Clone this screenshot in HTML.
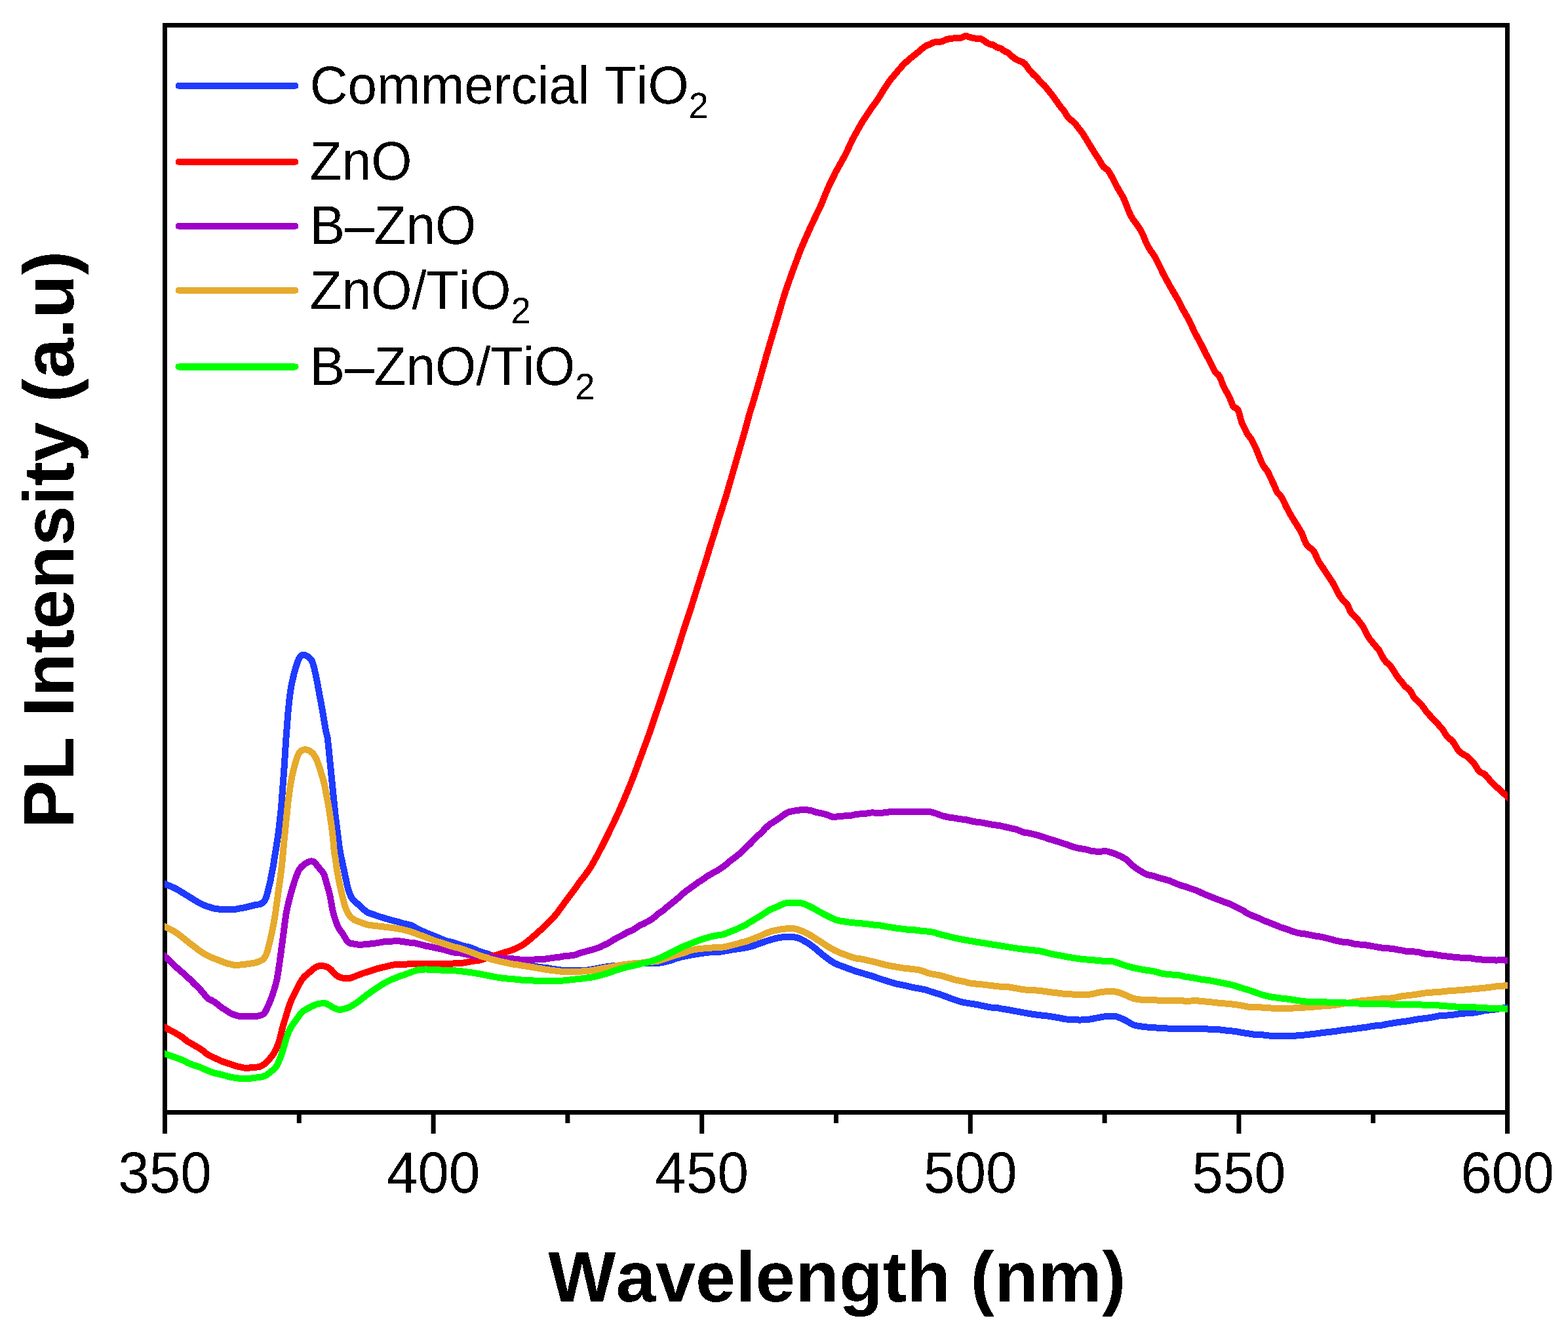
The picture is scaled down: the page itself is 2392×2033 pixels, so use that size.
<!DOCTYPE html>
<html lang="en"><head><meta charset="utf-8"><title>PL Intensity (a.u) vs Wavelength (nm)</title>
<style>html,body{margin:0;padding:0;background:#fff}body{width:2392px;height:2033px;overflow:hidden}svg{display:block}text{font-family:"Liberation Sans",sans-serif;fill:#000;font-kerning:none;text-rendering:geometricPrecision}.b{font-weight:700}</style></head><body>
<svg width="2392" height="2033" viewBox="0 0 2392 2033">
<rect x="0" y="0" width="2392" height="2033" fill="#fff"/>
<rect x="251.5" y="38.5" width="2048.0" height="1658.0" fill="none" stroke="#000" stroke-width="7"/>
<line x1="251.50" y1="1696.5" x2="251.50" y2="1729" stroke="#000" stroke-width="7"/>
<line x1="456.30" y1="1696.5" x2="456.30" y2="1713" stroke="#000" stroke-width="7"/>
<line x1="661.10" y1="1696.5" x2="661.10" y2="1729" stroke="#000" stroke-width="7"/>
<line x1="865.90" y1="1696.5" x2="865.90" y2="1713" stroke="#000" stroke-width="7"/>
<line x1="1070.70" y1="1696.5" x2="1070.70" y2="1729" stroke="#000" stroke-width="7"/>
<line x1="1275.50" y1="1696.5" x2="1275.50" y2="1713" stroke="#000" stroke-width="7"/>
<line x1="1480.30" y1="1696.5" x2="1480.30" y2="1729" stroke="#000" stroke-width="7"/>
<line x1="1685.10" y1="1696.5" x2="1685.10" y2="1713" stroke="#000" stroke-width="7"/>
<line x1="1889.90" y1="1696.5" x2="1889.90" y2="1729" stroke="#000" stroke-width="7"/>
<line x1="2094.70" y1="1696.5" x2="2094.70" y2="1713" stroke="#000" stroke-width="7"/>
<line x1="2299.50" y1="1696.5" x2="2299.50" y2="1729" stroke="#000" stroke-width="7"/>
<defs><clipPath id="c"><rect x="251.0" y="38.5" width="2049.0" height="1658.0"/></clipPath></defs>
<g clip-path="url(#c)" fill="none" stroke-width="10.0" stroke-linejoin="round" stroke-linecap="butt" shape-rendering="crispEdges">
<path d="M237.0,1342.7L243.0,1345.0L249.0,1346.9L255.0,1349.7L261.0,1351.9L268.5,1355.5L273.0,1358.1L301.5,1375.7L307.5,1378.9L312.0,1380.9L315.0,1382.0L325.5,1385.2L328.5,1385.9L334.5,1386.6L345.0,1387.1L357.0,1386.9L360.0,1386.6L373.5,1384.1L388.5,1380.4L396.0,1379.2L397.5,1378.7L400.5,1376.9L402.0,1375.7L403.5,1374.0L405.0,1371.1L406.5,1367.1L408.0,1362.1L412.5,1343.3L417.0,1319.5L423.0,1281.8L424.5,1271.3L426.0,1259.2L429.0,1231.6L433.5,1171.9L436.5,1124.9L439.5,1086.3L441.0,1070.9L442.5,1058.3L444.0,1048.3L445.5,1040.7L448.5,1027.8L451.5,1017.1L454.5,1008.0L456.0,1004.6L457.5,1002.0L459.0,1000.3L460.5,999.4L462.0,998.8L463.5,998.7L466.5,999.7L469.5,1001.4L472.5,1003.7L474.0,1005.2L475.5,1007.3L477.0,1010.9L478.5,1015.8L480.0,1021.8L483.0,1035.8L492.0,1084.2L496.5,1111.1L498.0,1118.4L499.5,1124.2L501.0,1137.3L511.5,1242.4L517.5,1290.3L519.0,1300.0L529.5,1349.4L531.0,1355.2L532.5,1360.1L534.0,1364.3L535.5,1367.6L537.0,1370.1L543.0,1376.2L555.0,1387.1L559.5,1390.8L562.5,1392.5L567.0,1393.8L573.0,1396.0L586.5,1400.4L597.0,1403.3L609.0,1406.3L615.0,1408.3L621.0,1409.6L627.0,1411.2L630.0,1412.6L637.5,1416.9L651.0,1423.1L666.0,1428.9L679.5,1434.7L691.5,1437.6L705.0,1442.2L712.5,1443.9L717.0,1445.0L730.5,1450.5L745.5,1455.4L754.5,1458.7L759.0,1460.1L765.0,1461.6L771.0,1462.8L780.0,1464.9L789.0,1467.4L795.0,1468.6L801.0,1470.4L820.5,1474.6L837.0,1476.6L843.0,1477.7L850.5,1478.7L861.0,1480.5L873.0,1480.4L880.5,1480.5L886.5,1480.3L898.5,1479.3L909.0,1477.4L921.0,1475.0L931.5,1473.6L963.0,1470.6L969.0,1469.8L987.0,1469.0L1003.5,1468.9L1008.0,1468.4L1012.5,1467.5L1023.0,1465.0L1030.5,1462.1L1039.5,1459.5L1045.5,1458.4L1054.5,1456.4L1071.0,1453.8L1081.5,1452.5L1089.0,1452.3L1101.0,1451.4L1119.0,1448.1L1131.0,1446.4L1141.5,1444.6L1147.5,1443.0L1168.5,1435.5L1177.5,1432.7L1183.5,1431.1L1191.0,1429.7L1198.5,1428.7L1203.0,1428.5L1209.0,1428.8L1215.0,1429.9L1219.5,1431.3L1222.5,1432.7L1231.5,1437.8L1236.0,1440.7L1242.0,1445.2L1257.0,1457.8L1267.5,1465.5L1272.0,1468.4L1278.0,1471.2L1305.0,1481.2L1329.0,1488.2L1347.0,1494.4L1353.0,1496.1L1362.0,1499.0L1368.0,1500.6L1381.5,1503.3L1393.5,1506.2L1401.0,1507.4L1413.0,1509.9L1420.5,1512.5L1432.5,1516.1L1443.0,1519.8L1450.5,1522.8L1464.0,1527.4L1468.5,1528.6L1491.0,1532.3L1510.5,1536.3L1513.5,1536.7L1522.5,1537.3L1527.0,1538.4L1533.0,1539.2L1569.0,1545.8L1581.0,1547.6L1593.0,1549.1L1599.0,1549.6L1617.0,1552.5L1623.0,1554.0L1632.0,1555.1L1635.0,1555.4L1641.0,1555.2L1647.0,1555.6L1657.5,1555.1L1665.0,1554.2L1671.0,1552.8L1677.0,1551.9L1683.0,1550.6L1693.5,1549.6L1699.5,1549.7L1704.0,1550.7L1710.0,1552.9L1717.5,1556.4L1726.5,1561.8L1729.5,1563.2L1731.0,1563.7L1738.5,1565.2L1753.5,1566.9L1761.0,1567.1L1767.0,1567.9L1773.0,1568.4L1779.0,1568.4L1791.0,1569.1L1797.0,1569.3L1810.5,1568.7L1825.5,1569.0L1836.0,1569.0L1840.5,1569.3L1849.5,1570.2L1857.0,1570.1L1860.0,1570.3L1870.5,1571.6L1885.5,1573.0L1894.5,1575.0L1905.0,1576.4L1912.5,1577.7L1917.0,1578.1L1926.0,1578.3L1941.0,1580.1L1947.0,1580.2L1953.0,1580.0L1965.0,1580.5L1995.0,1578.1L2001.0,1577.1L2007.0,1576.5L2017.5,1575.1L2037.0,1572.9L2043.0,1571.8L2049.0,1571.0L2061.0,1569.7L2079.0,1567.3L2085.0,1566.7L2092.5,1565.1L2103.0,1563.8L2109.0,1563.5L2115.0,1562.0L2133.0,1559.1L2149.5,1557.0L2161.5,1554.6L2179.5,1552.4L2196.0,1549.3L2200.5,1548.8L2206.5,1548.6L2214.0,1548.1L2229.0,1545.9L2247.0,1544.7L2257.5,1543.1L2265.0,1541.2L2278.5,1539.9L2289.0,1538.0L2302.5,1536.0L2307.0,1535.6L2313.0,1535.5" stroke="#1f3bff" stroke-width="8.0" shape-rendering="auto"/>
<path d="M237.0,1342.7L243.0,1345.0L249.0,1346.9L255.0,1349.7L261.0,1351.9L268.5,1355.5L273.0,1358.1L301.5,1375.7L307.5,1378.9L312.0,1380.9L315.0,1382.0L325.5,1385.2L328.5,1385.9L334.5,1386.6L345.0,1387.1L357.0,1386.9L360.0,1386.6L373.5,1384.1L388.5,1380.4L396.0,1379.2L397.5,1378.7L400.5,1376.9L402.0,1375.7L403.5,1374.0L405.0,1371.1L406.5,1367.1L408.0,1362.1L412.5,1343.3L417.0,1319.5L423.0,1281.8L424.5,1271.3L426.0,1259.2L429.0,1231.6L433.5,1171.9L436.5,1124.9L439.5,1086.3L441.0,1070.9L442.5,1058.3L444.0,1048.3L445.5,1040.7L448.5,1027.8L451.5,1017.1L454.5,1008.0L456.0,1004.6L457.5,1002.0L459.0,1000.3L460.5,999.4L462.0,998.8L463.5,998.7L466.5,999.7L469.5,1001.4L472.5,1003.7L474.0,1005.2L475.5,1007.3L477.0,1010.9L478.5,1015.8L480.0,1021.8L483.0,1035.8L492.0,1084.2L496.5,1111.1L498.0,1118.4L499.5,1124.2L501.0,1137.3L511.5,1242.4L517.5,1290.3L519.0,1300.0L529.5,1349.4L531.0,1355.2L532.5,1360.1L534.0,1364.3L535.5,1367.6L537.0,1370.1L543.0,1376.2L555.0,1387.1L559.5,1390.8L562.5,1392.5L567.0,1393.8L573.0,1396.0L586.5,1400.4L597.0,1403.3L609.0,1406.3L615.0,1408.3L621.0,1409.6L627.0,1411.2L630.0,1412.6L637.5,1416.9L651.0,1423.1L666.0,1428.9L679.5,1434.7L691.5,1437.6L705.0,1442.2L712.5,1443.9L717.0,1445.0L730.5,1450.5L745.5,1455.4L754.5,1458.7L759.0,1460.1L765.0,1461.6L771.0,1462.8L780.0,1464.9L789.0,1467.4L795.0,1468.6L801.0,1470.4L820.5,1474.6L837.0,1476.6L843.0,1477.7L850.5,1478.7L861.0,1480.5L873.0,1480.4L880.5,1480.5L886.5,1480.3L898.5,1479.3L909.0,1477.4L921.0,1475.0L931.5,1473.6L963.0,1470.6L969.0,1469.8L987.0,1469.0L1003.5,1468.9L1008.0,1468.4L1012.5,1467.5L1023.0,1465.0L1030.5,1462.1L1039.5,1459.5L1045.5,1458.4L1054.5,1456.4L1071.0,1453.8L1081.5,1452.5L1089.0,1452.3L1101.0,1451.4L1119.0,1448.1L1131.0,1446.4L1141.5,1444.6L1147.5,1443.0L1168.5,1435.5L1177.5,1432.7L1183.5,1431.1L1191.0,1429.7L1198.5,1428.7L1203.0,1428.5L1209.0,1428.8L1215.0,1429.9L1219.5,1431.3L1222.5,1432.7L1231.5,1437.8L1236.0,1440.7L1242.0,1445.2L1257.0,1457.8L1267.5,1465.5L1272.0,1468.4L1278.0,1471.2L1305.0,1481.2L1329.0,1488.2L1347.0,1494.4L1353.0,1496.1L1362.0,1499.0L1368.0,1500.6L1381.5,1503.3L1393.5,1506.2L1401.0,1507.4L1413.0,1509.9L1420.5,1512.5L1432.5,1516.1L1443.0,1519.8L1450.5,1522.8L1464.0,1527.4L1468.5,1528.6L1491.0,1532.3L1510.5,1536.3L1513.5,1536.7L1522.5,1537.3L1527.0,1538.4L1533.0,1539.2L1569.0,1545.8L1581.0,1547.6L1593.0,1549.1L1599.0,1549.6L1617.0,1552.5L1623.0,1554.0L1632.0,1555.1L1635.0,1555.4L1641.0,1555.2L1647.0,1555.6L1657.5,1555.1L1665.0,1554.2L1671.0,1552.8L1677.0,1551.9L1683.0,1550.6L1693.5,1549.6L1699.5,1549.7L1704.0,1550.7L1710.0,1552.9L1717.5,1556.4L1726.5,1561.8L1729.5,1563.2L1731.0,1563.7L1738.5,1565.2L1753.5,1566.9L1761.0,1567.1L1767.0,1567.9L1773.0,1568.4L1779.0,1568.4L1791.0,1569.1L1797.0,1569.3L1810.5,1568.7L1825.5,1569.0L1836.0,1569.0L1840.5,1569.3L1849.5,1570.2L1857.0,1570.1L1860.0,1570.3L1870.5,1571.6L1885.5,1573.0L1894.5,1575.0L1905.0,1576.4L1912.5,1577.7L1917.0,1578.1L1926.0,1578.3L1941.0,1580.1L1947.0,1580.2L1953.0,1580.0L1965.0,1580.5L1995.0,1578.1L2001.0,1577.1L2007.0,1576.5L2017.5,1575.1L2037.0,1572.9L2043.0,1571.8L2049.0,1571.0L2061.0,1569.7L2079.0,1567.3L2085.0,1566.7L2092.5,1565.1L2103.0,1563.8L2109.0,1563.5L2115.0,1562.0L2133.0,1559.1L2149.5,1557.0L2161.5,1554.6L2179.5,1552.4L2196.0,1549.3L2200.5,1548.8L2206.5,1548.6L2214.0,1548.1L2229.0,1545.9L2247.0,1544.7L2257.5,1543.1L2265.0,1541.2L2278.5,1539.9L2289.0,1538.0L2302.5,1536.0L2307.0,1535.6L2313.0,1535.5" stroke="#1f3bff"/>
<path d="M237.0,1559.9L249.0,1565.5L255.0,1568.8L264.0,1573.4L268.5,1576.0L279.0,1582.4L285.0,1587.7L286.5,1588.6L291.0,1590.9L297.0,1594.7L303.0,1598.0L306.0,1599.9L310.5,1603.2L315.0,1607.0L318.0,1609.0L322.5,1611.3L339.0,1618.8L343.5,1620.4L351.0,1622.7L358.5,1625.4L366.0,1627.3L372.0,1628.5L375.0,1628.7L379.5,1628.6L391.5,1627.6L396.0,1626.9L399.0,1625.7L402.0,1623.9L405.0,1621.5L408.0,1618.6L412.5,1613.4L415.5,1609.6L418.5,1605.1L421.5,1599.4L424.5,1591.9L426.0,1587.1L427.5,1581.8L430.5,1569.1L432.0,1563.7L439.5,1539.2L442.5,1530.0L445.5,1523.0L451.5,1510.7L457.5,1499.3L460.5,1494.3L462.0,1492.2L465.0,1488.9L471.0,1483.9L477.0,1478.4L480.0,1476.3L483.0,1474.6L486.0,1473.4L489.0,1472.8L492.0,1473.0L498.0,1474.3L499.5,1474.9L502.5,1476.8L505.5,1479.4L510.0,1484.8L513.0,1487.3L516.0,1489.3L519.0,1490.7L522.0,1491.5L526.5,1492.1L531.0,1492.3L534.0,1491.8L537.0,1490.9L549.0,1486.1L555.0,1484.0L561.0,1482.2L574.5,1477.6L592.5,1473.2L601.5,1471.3L604.5,1471.1L612.0,1471.3L621.0,1470.5L627.0,1470.4L636.0,1469.9L645.0,1470.3L663.0,1470.0L681.0,1470.2L693.0,1469.4L705.0,1468.9L721.5,1465.7L727.5,1465.2L730.5,1464.7L735.0,1463.5L757.5,1456.5L778.5,1449.9L783.0,1448.2L787.5,1446.2L793.5,1443.4L796.5,1441.7L802.5,1437.4L810.0,1431.4L820.5,1422.2L831.0,1412.6L843.0,1400.4L849.0,1393.7L861.0,1377.1L874.5,1359.2L885.0,1344.4L891.0,1336.6L897.0,1328.5L901.5,1321.7L906.0,1314.0L913.5,1300.2L921.0,1285.5L933.0,1261.3L943.5,1239.0L951.0,1221.8L961.5,1196.6L967.5,1181.3L991.5,1116.2L999.0,1093.6L1011.0,1058.7L1032.0,995.9L1044.0,957.3L1054.5,926.0L1071.0,873.2L1077.0,854.8L1083.0,834.5L1089.0,815.8L1096.5,791.4L1107.0,758.7L1137.0,654.8L1143.0,632.3L1149.0,613.0L1158.0,582.5L1168.5,544.7L1177.5,513.9L1186.5,484.1L1194.0,458.1L1198.5,443.7L1209.0,413.9L1221.0,381.7L1227.0,367.7L1237.5,344.1L1252.5,312.6L1261.5,290.6L1264.5,283.7L1275.0,262.3L1290.0,235.2L1300.5,212.6L1314.0,188.3L1318.5,181.2L1329.0,165.4L1335.0,157.4L1341.0,148.7L1348.5,136.2L1356.0,125.1L1360.5,119.2L1374.0,103.1L1380.0,96.8L1387.5,90.0L1401.0,79.3L1407.0,73.9L1413.0,69.7L1414.5,69.0L1419.0,67.5L1423.5,65.0L1425.0,64.5L1429.5,63.9L1435.5,63.5L1437.0,63.3L1438.5,62.7L1441.5,61.1L1443.0,60.5L1449.0,59.0L1455.0,58.4L1462.5,58.1L1465.5,57.7L1468.5,56.9L1471.5,55.4L1473.0,55.0L1474.5,55.1L1479.0,56.7L1488.0,58.6L1491.0,59.0L1495.5,59.1L1497.0,59.4L1498.5,60.1L1503.0,63.6L1507.5,66.3L1510.5,67.5L1515.0,68.4L1516.5,69.2L1521.0,72.2L1522.5,72.8L1525.5,73.5L1527.0,74.1L1533.0,78.3L1537.5,80.3L1539.0,81.3L1545.0,87.0L1548.0,89.2L1552.5,91.7L1560.0,94.8L1563.0,96.9L1564.5,98.5L1569.0,105.0L1572.0,108.7L1575.0,112.0L1582.5,119.3L1587.0,124.4L1593.0,130.0L1605.0,144.9L1617.0,161.7L1623.0,169.1L1629.0,178.4L1630.5,180.1L1636.5,185.2L1641.0,189.7L1651.5,203.2L1671.0,235.1L1677.0,244.1L1681.5,251.9L1683.0,254.0L1684.5,255.5L1689.0,258.7L1690.5,260.3L1692.0,262.3L1696.5,270.3L1704.0,284.9L1713.0,300.2L1716.0,306.7L1722.0,322.3L1725.0,328.8L1728.0,333.9L1735.5,344.2L1740.0,351.1L1741.5,353.7L1743.0,356.7L1747.5,367.7L1750.5,374.2L1755.0,381.8L1761.0,390.2L1762.5,392.7L1774.5,417.4L1785.0,436.8L1797.0,457.1L1803.0,469.3L1813.5,487.6L1816.5,493.8L1821.0,503.9L1827.0,515.4L1833.0,526.4L1839.0,538.7L1848.0,555.7L1852.5,565.1L1854.0,567.6L1855.5,569.1L1858.5,571.3L1860.0,573.3L1861.5,576.4L1866.0,587.8L1867.5,591.0L1869.0,594.0L1873.5,601.7L1875.0,604.7L1881.0,619.4L1882.5,621.2L1884.0,622.0L1885.5,622.4L1887.0,623.3L1888.5,625.3L1890.0,628.9L1893.0,640.1L1894.5,645.0L1902.0,660.3L1903.5,662.7L1908.0,668.5L1909.5,671.1L1914.0,680.0L1917.0,686.4L1923.0,701.5L1926.0,708.2L1929.0,712.9L1932.0,716.5L1933.5,718.6L1935.0,721.4L1944.0,740.8L1947.0,747.9L1948.5,750.7L1950.0,752.8L1953.0,755.8L1954.5,757.6L1956.0,759.9L1962.0,772.4L1966.5,781.0L1971.0,788.8L1984.5,810.6L1986.0,813.6L1990.5,825.1L1992.0,828.4L1993.5,830.9L1995.0,832.8L1996.5,834.1L2001.0,837.3L2002.5,838.7L2004.0,840.6L2005.5,843.2L2011.5,856.0L2013.0,858.5L2019.0,867.2L2023.5,874.3L2032.5,887.8L2035.5,893.1L2040.0,902.2L2043.0,907.4L2047.5,913.8L2049.0,915.6L2053.5,919.6L2055.0,921.4L2056.5,924.3L2059.5,931.9L2061.0,934.2L2070.0,943.5L2077.5,953.3L2080.5,957.9L2086.5,969.8L2089.5,974.5L2103.0,990.7L2104.5,992.9L2109.0,1001.6L2112.0,1006.6L2115.0,1010.1L2119.5,1014.2L2122.5,1017.5L2125.5,1022.0L2130.0,1029.6L2134.5,1035.7L2139.0,1041.0L2142.0,1045.0L2143.5,1046.8L2145.0,1048.1L2149.5,1051.5L2151.0,1053.1L2152.5,1055.4L2157.0,1063.5L2158.5,1065.5L2163.0,1069.3L2166.0,1072.1L2169.0,1075.6L2176.5,1086.0L2181.0,1091.0L2187.0,1097.2L2199.0,1110.4L2200.5,1112.3L2206.5,1121.7L2209.5,1124.9L2214.0,1128.8L2217.0,1132.0L2218.5,1134.2L2223.0,1141.9L2224.5,1144.2L2226.0,1146.0L2229.0,1148.5L2236.5,1152.7L2239.5,1155.1L2242.5,1157.9L2248.5,1164.1L2250.0,1166.2L2254.5,1173.7L2256.0,1175.8L2257.5,1177.1L2259.0,1178.1L2263.5,1180.0L2265.0,1181.0L2268.0,1184.2L2274.0,1191.3L2281.5,1198.9L2289.0,1205.4L2313.0,1227.7" stroke="#ff0000" stroke-width="8.0" shape-rendering="auto"/>
<path d="M237.0,1559.9L249.0,1565.5L255.0,1568.8L264.0,1573.4L268.5,1576.0L279.0,1582.4L285.0,1587.7L286.5,1588.6L291.0,1590.9L297.0,1594.7L303.0,1598.0L306.0,1599.9L310.5,1603.2L315.0,1607.0L318.0,1609.0L322.5,1611.3L339.0,1618.8L343.5,1620.4L351.0,1622.7L358.5,1625.4L366.0,1627.3L372.0,1628.5L375.0,1628.7L379.5,1628.6L391.5,1627.6L396.0,1626.9L399.0,1625.7L402.0,1623.9L405.0,1621.5L408.0,1618.6L412.5,1613.4L415.5,1609.6L418.5,1605.1L421.5,1599.4L424.5,1591.9L426.0,1587.1L427.5,1581.8L430.5,1569.1L432.0,1563.7L439.5,1539.2L442.5,1530.0L445.5,1523.0L451.5,1510.7L457.5,1499.3L460.5,1494.3L462.0,1492.2L465.0,1488.9L471.0,1483.9L477.0,1478.4L480.0,1476.3L483.0,1474.6L486.0,1473.4L489.0,1472.8L492.0,1473.0L498.0,1474.3L499.5,1474.9L502.5,1476.8L505.5,1479.4L510.0,1484.8L513.0,1487.3L516.0,1489.3L519.0,1490.7L522.0,1491.5L526.5,1492.1L531.0,1492.3L534.0,1491.8L537.0,1490.9L549.0,1486.1L555.0,1484.0L561.0,1482.2L574.5,1477.6L592.5,1473.2L601.5,1471.3L604.5,1471.1L612.0,1471.3L621.0,1470.5L627.0,1470.4L636.0,1469.9L645.0,1470.3L663.0,1470.0L681.0,1470.2L693.0,1469.4L705.0,1468.9L721.5,1465.7L727.5,1465.2L730.5,1464.7L735.0,1463.5L757.5,1456.5L778.5,1449.9L783.0,1448.2L787.5,1446.2L793.5,1443.4L796.5,1441.7L802.5,1437.4L810.0,1431.4L820.5,1422.2L831.0,1412.6L843.0,1400.4L849.0,1393.7L861.0,1377.1L874.5,1359.2L885.0,1344.4L891.0,1336.6L897.0,1328.5L901.5,1321.7L906.0,1314.0L913.5,1300.2L921.0,1285.5L933.0,1261.3L943.5,1239.0L951.0,1221.8L961.5,1196.6L967.5,1181.3L991.5,1116.2L999.0,1093.6L1011.0,1058.7L1032.0,995.9L1044.0,957.3L1054.5,926.0L1071.0,873.2L1077.0,854.8L1083.0,834.5L1089.0,815.8L1096.5,791.4L1107.0,758.7L1137.0,654.8L1143.0,632.3L1149.0,613.0L1158.0,582.5L1168.5,544.7L1177.5,513.9L1186.5,484.1L1194.0,458.1L1198.5,443.7L1209.0,413.9L1221.0,381.7L1227.0,367.7L1237.5,344.1L1252.5,312.6L1261.5,290.6L1264.5,283.7L1275.0,262.3L1290.0,235.2L1300.5,212.6L1314.0,188.3L1318.5,181.2L1329.0,165.4L1335.0,157.4L1341.0,148.7L1348.5,136.2L1356.0,125.1L1360.5,119.2L1374.0,103.1L1380.0,96.8L1387.5,90.0L1401.0,79.3L1407.0,73.9L1413.0,69.7L1414.5,69.0L1419.0,67.5L1423.5,65.0L1425.0,64.5L1429.5,63.9L1435.5,63.5L1437.0,63.3L1438.5,62.7L1441.5,61.1L1443.0,60.5L1449.0,59.0L1455.0,58.4L1462.5,58.1L1465.5,57.7L1468.5,56.9L1471.5,55.4L1473.0,55.0L1474.5,55.1L1479.0,56.7L1488.0,58.6L1491.0,59.0L1495.5,59.1L1497.0,59.4L1498.5,60.1L1503.0,63.6L1507.5,66.3L1510.5,67.5L1515.0,68.4L1516.5,69.2L1521.0,72.2L1522.5,72.8L1525.5,73.5L1527.0,74.1L1533.0,78.3L1537.5,80.3L1539.0,81.3L1545.0,87.0L1548.0,89.2L1552.5,91.7L1560.0,94.8L1563.0,96.9L1564.5,98.5L1569.0,105.0L1572.0,108.7L1575.0,112.0L1582.5,119.3L1587.0,124.4L1593.0,130.0L1605.0,144.9L1617.0,161.7L1623.0,169.1L1629.0,178.4L1630.5,180.1L1636.5,185.2L1641.0,189.7L1651.5,203.2L1671.0,235.1L1677.0,244.1L1681.5,251.9L1683.0,254.0L1684.5,255.5L1689.0,258.7L1690.5,260.3L1692.0,262.3L1696.5,270.3L1704.0,284.9L1713.0,300.2L1716.0,306.7L1722.0,322.3L1725.0,328.8L1728.0,333.9L1735.5,344.2L1740.0,351.1L1741.5,353.7L1743.0,356.7L1747.5,367.7L1750.5,374.2L1755.0,381.8L1761.0,390.2L1762.5,392.7L1774.5,417.4L1785.0,436.8L1797.0,457.1L1803.0,469.3L1813.5,487.6L1816.5,493.8L1821.0,503.9L1827.0,515.4L1833.0,526.4L1839.0,538.7L1848.0,555.7L1852.5,565.1L1854.0,567.6L1855.5,569.1L1858.5,571.3L1860.0,573.3L1861.5,576.4L1866.0,587.8L1867.5,591.0L1869.0,594.0L1873.5,601.7L1875.0,604.7L1881.0,619.4L1882.5,621.2L1884.0,622.0L1885.5,622.4L1887.0,623.3L1888.5,625.3L1890.0,628.9L1893.0,640.1L1894.5,645.0L1902.0,660.3L1903.5,662.7L1908.0,668.5L1909.5,671.1L1914.0,680.0L1917.0,686.4L1923.0,701.5L1926.0,708.2L1929.0,712.9L1932.0,716.5L1933.5,718.6L1935.0,721.4L1944.0,740.8L1947.0,747.9L1948.5,750.7L1950.0,752.8L1953.0,755.8L1954.5,757.6L1956.0,759.9L1962.0,772.4L1966.5,781.0L1971.0,788.8L1984.5,810.6L1986.0,813.6L1990.5,825.1L1992.0,828.4L1993.5,830.9L1995.0,832.8L1996.5,834.1L2001.0,837.3L2002.5,838.7L2004.0,840.6L2005.5,843.2L2011.5,856.0L2013.0,858.5L2019.0,867.2L2023.5,874.3L2032.5,887.8L2035.5,893.1L2040.0,902.2L2043.0,907.4L2047.5,913.8L2049.0,915.6L2053.5,919.6L2055.0,921.4L2056.5,924.3L2059.5,931.9L2061.0,934.2L2070.0,943.5L2077.5,953.3L2080.5,957.9L2086.5,969.8L2089.5,974.5L2103.0,990.7L2104.5,992.9L2109.0,1001.6L2112.0,1006.6L2115.0,1010.1L2119.5,1014.2L2122.5,1017.5L2125.5,1022.0L2130.0,1029.6L2134.5,1035.7L2139.0,1041.0L2142.0,1045.0L2143.5,1046.8L2145.0,1048.1L2149.5,1051.5L2151.0,1053.1L2152.5,1055.4L2157.0,1063.5L2158.5,1065.5L2163.0,1069.3L2166.0,1072.1L2169.0,1075.6L2176.5,1086.0L2181.0,1091.0L2187.0,1097.2L2199.0,1110.4L2200.5,1112.3L2206.5,1121.7L2209.5,1124.9L2214.0,1128.8L2217.0,1132.0L2218.5,1134.2L2223.0,1141.9L2224.5,1144.2L2226.0,1146.0L2229.0,1148.5L2236.5,1152.7L2239.5,1155.1L2242.5,1157.9L2248.5,1164.1L2250.0,1166.2L2254.5,1173.7L2256.0,1175.8L2257.5,1177.1L2259.0,1178.1L2263.5,1180.0L2265.0,1181.0L2268.0,1184.2L2274.0,1191.3L2281.5,1198.9L2289.0,1205.4L2313.0,1227.7" stroke="#ff0000"/>
<path d="M237.0,1445.1L241.5,1449.2L261.0,1467.6L267.0,1473.5L279.0,1483.8L291.0,1494.8L297.0,1501.1L301.5,1505.2L304.5,1508.3L309.0,1513.2L313.5,1518.8L316.5,1522.1L318.0,1523.3L319.5,1524.1L324.0,1526.3L327.0,1528.0L333.0,1532.6L339.0,1537.5L343.5,1540.0L351.0,1544.9L354.0,1546.5L360.0,1548.6L366.0,1550.0L373.5,1550.5L387.0,1550.3L393.0,1549.6L396.0,1549.1L400.5,1547.4L402.0,1546.5L403.5,1545.0L405.0,1542.7L409.5,1533.0L412.5,1525.8L415.5,1517.9L418.5,1508.5L421.5,1497.9L423.0,1490.9L426.0,1471.8L432.0,1427.4L435.0,1403.6L436.5,1393.7L438.0,1385.6L441.0,1372.9L445.5,1356.6L448.5,1346.7L451.5,1337.7L454.5,1330.2L456.0,1327.3L457.5,1324.9L459.0,1323.0L462.0,1320.1L465.0,1317.8L468.0,1315.9L471.0,1314.3L472.5,1313.8L474.0,1313.5L475.5,1313.4L477.0,1313.8L478.5,1314.4L480.0,1315.4L481.5,1316.9L489.0,1326.7L492.0,1329.9L493.5,1331.9L495.0,1335.4L502.5,1362.1L504.0,1368.9L507.0,1386.4L510.0,1398.1L513.0,1407.0L516.0,1414.2L517.5,1416.9L523.5,1425.2L528.0,1433.0L529.5,1435.1L531.0,1436.6L532.5,1437.7L534.0,1438.5L535.5,1438.9L543.0,1440.0L547.5,1440.9L549.0,1441.0L570.0,1439.0L577.5,1437.8L586.5,1436.1L597.0,1435.7L604.5,1434.9L607.5,1435.0L624.0,1437.5L633.0,1438.3L651.0,1443.0L657.0,1443.9L663.0,1445.4L676.5,1448.1L690.0,1452.2L694.5,1452.9L699.0,1453.1L702.0,1453.5L721.5,1457.5L745.5,1459.3L759.0,1461.0L765.0,1461.2L771.0,1462.2L777.0,1462.5L783.0,1462.4L790.5,1463.4L802.5,1463.9L810.0,1464.0L813.0,1463.9L819.0,1463.0L831.0,1462.7L846.0,1460.5L855.0,1459.5L861.0,1458.1L868.5,1457.7L876.0,1456.6L879.0,1455.9L885.0,1453.3L891.0,1451.9L897.0,1450.1L903.0,1448.7L915.0,1444.7L921.0,1441.6L927.0,1439.0L936.0,1433.4L945.0,1428.4L951.0,1425.4L957.0,1421.8L961.5,1420.1L966.0,1417.9L976.5,1411.1L982.5,1408.5L993.0,1402.7L999.0,1398.2L1005.0,1393.0L1011.0,1389.0L1017.0,1383.8L1030.5,1373.1L1044.0,1361.1L1047.0,1358.7L1059.0,1350.3L1065.0,1345.8L1071.0,1342.1L1078.5,1336.7L1087.5,1331.4L1095.0,1327.3L1101.0,1323.4L1107.0,1319.0L1113.0,1313.7L1123.5,1306.0L1128.0,1302.2L1134.0,1296.7L1144.5,1286.5L1155.0,1275.7L1161.0,1270.4L1167.0,1263.9L1171.5,1259.6L1174.5,1257.1L1189.5,1247.5L1197.0,1241.8L1201.5,1239.2L1204.5,1238.1L1209.0,1237.1L1218.0,1235.7L1227.0,1234.7L1236.0,1236.0L1239.0,1236.7L1245.0,1238.8L1252.5,1240.2L1261.5,1242.6L1263.0,1243.1L1269.0,1245.7L1270.5,1245.9L1281.0,1245.2L1293.0,1243.8L1299.0,1243.6L1305.0,1242.2L1311.0,1241.5L1320.0,1240.9L1329.0,1239.5L1332.0,1239.4L1339.5,1240.1L1342.5,1240.1L1357.5,1238.3L1368.0,1237.8L1380.0,1237.9L1389.0,1238.4L1395.0,1238.1L1401.0,1238.3L1419.0,1238.3L1422.0,1238.8L1428.0,1240.7L1437.0,1244.1L1449.0,1246.9L1455.0,1247.5L1464.0,1249.2L1473.0,1250.0L1485.0,1253.0L1491.0,1253.9L1497.0,1254.5L1512.0,1257.5L1527.0,1259.6L1545.0,1263.9L1551.0,1265.1L1560.0,1268.8L1563.0,1269.8L1569.0,1270.5L1582.5,1273.8L1591.5,1276.5L1600.5,1279.6L1617.0,1284.6L1623.0,1286.7L1629.0,1288.5L1635.0,1291.0L1645.5,1293.7L1656.0,1295.4L1659.0,1296.1L1665.0,1297.9L1666.5,1298.2L1675.5,1298.8L1684.5,1298.3L1689.0,1298.5L1690.5,1298.8L1701.0,1302.2L1708.5,1305.4L1713.0,1307.7L1717.5,1310.3L1720.5,1312.7L1726.5,1318.8L1729.5,1321.5L1738.5,1327.6L1747.5,1332.9L1749.0,1333.5L1752.0,1334.4L1761.0,1336.3L1767.0,1338.6L1773.0,1340.0L1779.0,1341.9L1783.5,1343.1L1786.5,1344.2L1794.0,1347.6L1801.5,1350.4L1809.0,1352.4L1815.0,1354.7L1824.0,1357.7L1827.0,1358.9L1837.5,1363.8L1849.5,1368.7L1863.0,1373.8L1869.0,1376.3L1873.5,1377.7L1876.5,1378.8L1884.0,1382.4L1897.5,1389.2L1900.5,1391.7L1911.0,1396.8L1918.5,1399.5L1921.5,1400.8L1929.0,1404.6L1935.0,1406.6L1941.0,1409.1L1945.5,1410.7L1953.0,1414.0L1965.0,1417.8L1972.5,1420.7L1980.0,1422.9L1983.0,1423.5L1990.5,1424.3L2007.0,1427.7L2014.5,1428.6L2025.0,1431.1L2038.5,1434.7L2049.0,1436.8L2055.0,1437.1L2058.0,1437.5L2061.0,1438.2L2067.0,1439.9L2071.5,1440.4L2080.5,1440.8L2107.5,1445.5L2110.5,1445.9L2116.5,1446.2L2125.5,1447.2L2133.0,1448.6L2139.0,1449.5L2145.0,1450.8L2161.5,1451.7L2164.5,1452.2L2172.0,1454.3L2175.0,1454.9L2181.0,1454.7L2182.5,1454.8L2200.5,1457.8L2223.0,1460.3L2229.0,1460.6L2241.0,1460.6L2247.0,1462.0L2250.0,1462.5L2259.0,1463.3L2265.0,1464.0L2277.0,1464.2L2283.0,1464.6L2289.0,1464.1L2292.0,1464.1L2295.0,1464.4L2301.0,1465.6L2302.5,1465.7L2313.0,1465.2" stroke="#a000c8" stroke-width="8.0" shape-rendering="auto"/>
<path d="M237.0,1445.1L241.5,1449.2L261.0,1467.6L267.0,1473.5L279.0,1483.8L291.0,1494.8L297.0,1501.1L301.5,1505.2L304.5,1508.3L309.0,1513.2L313.5,1518.8L316.5,1522.1L318.0,1523.3L319.5,1524.1L324.0,1526.3L327.0,1528.0L333.0,1532.6L339.0,1537.5L343.5,1540.0L351.0,1544.9L354.0,1546.5L360.0,1548.6L366.0,1550.0L373.5,1550.5L387.0,1550.3L393.0,1549.6L396.0,1549.1L400.5,1547.4L402.0,1546.5L403.5,1545.0L405.0,1542.7L409.5,1533.0L412.5,1525.8L415.5,1517.9L418.5,1508.5L421.5,1497.9L423.0,1490.9L426.0,1471.8L432.0,1427.4L435.0,1403.6L436.5,1393.7L438.0,1385.6L441.0,1372.9L445.5,1356.6L448.5,1346.7L451.5,1337.7L454.5,1330.2L456.0,1327.3L457.5,1324.9L459.0,1323.0L462.0,1320.1L465.0,1317.8L468.0,1315.9L471.0,1314.3L472.5,1313.8L474.0,1313.5L475.5,1313.4L477.0,1313.8L478.5,1314.4L480.0,1315.4L481.5,1316.9L489.0,1326.7L492.0,1329.9L493.5,1331.9L495.0,1335.4L502.5,1362.1L504.0,1368.9L507.0,1386.4L510.0,1398.1L513.0,1407.0L516.0,1414.2L517.5,1416.9L523.5,1425.2L528.0,1433.0L529.5,1435.1L531.0,1436.6L532.5,1437.7L534.0,1438.5L535.5,1438.9L543.0,1440.0L547.5,1440.9L549.0,1441.0L570.0,1439.0L577.5,1437.8L586.5,1436.1L597.0,1435.7L604.5,1434.9L607.5,1435.0L624.0,1437.5L633.0,1438.3L651.0,1443.0L657.0,1443.9L663.0,1445.4L676.5,1448.1L690.0,1452.2L694.5,1452.9L699.0,1453.1L702.0,1453.5L721.5,1457.5L745.5,1459.3L759.0,1461.0L765.0,1461.2L771.0,1462.2L777.0,1462.5L783.0,1462.4L790.5,1463.4L802.5,1463.9L810.0,1464.0L813.0,1463.9L819.0,1463.0L831.0,1462.7L846.0,1460.5L855.0,1459.5L861.0,1458.1L868.5,1457.7L876.0,1456.6L879.0,1455.9L885.0,1453.3L891.0,1451.9L897.0,1450.1L903.0,1448.7L915.0,1444.7L921.0,1441.6L927.0,1439.0L936.0,1433.4L945.0,1428.4L951.0,1425.4L957.0,1421.8L961.5,1420.1L966.0,1417.9L976.5,1411.1L982.5,1408.5L993.0,1402.7L999.0,1398.2L1005.0,1393.0L1011.0,1389.0L1017.0,1383.8L1030.5,1373.1L1044.0,1361.1L1047.0,1358.7L1059.0,1350.3L1065.0,1345.8L1071.0,1342.1L1078.5,1336.7L1087.5,1331.4L1095.0,1327.3L1101.0,1323.4L1107.0,1319.0L1113.0,1313.7L1123.5,1306.0L1128.0,1302.2L1134.0,1296.7L1144.5,1286.5L1155.0,1275.7L1161.0,1270.4L1167.0,1263.9L1171.5,1259.6L1174.5,1257.1L1189.5,1247.5L1197.0,1241.8L1201.5,1239.2L1204.5,1238.1L1209.0,1237.1L1218.0,1235.7L1227.0,1234.7L1236.0,1236.0L1239.0,1236.7L1245.0,1238.8L1252.5,1240.2L1261.5,1242.6L1263.0,1243.1L1269.0,1245.7L1270.5,1245.9L1281.0,1245.2L1293.0,1243.8L1299.0,1243.6L1305.0,1242.2L1311.0,1241.5L1320.0,1240.9L1329.0,1239.5L1332.0,1239.4L1339.5,1240.1L1342.5,1240.1L1357.5,1238.3L1368.0,1237.8L1380.0,1237.9L1389.0,1238.4L1395.0,1238.1L1401.0,1238.3L1419.0,1238.3L1422.0,1238.8L1428.0,1240.7L1437.0,1244.1L1449.0,1246.9L1455.0,1247.5L1464.0,1249.2L1473.0,1250.0L1485.0,1253.0L1491.0,1253.9L1497.0,1254.5L1512.0,1257.5L1527.0,1259.6L1545.0,1263.9L1551.0,1265.1L1560.0,1268.8L1563.0,1269.8L1569.0,1270.5L1582.5,1273.8L1591.5,1276.5L1600.5,1279.6L1617.0,1284.6L1623.0,1286.7L1629.0,1288.5L1635.0,1291.0L1645.5,1293.7L1656.0,1295.4L1659.0,1296.1L1665.0,1297.9L1666.5,1298.2L1675.5,1298.8L1684.5,1298.3L1689.0,1298.5L1690.5,1298.8L1701.0,1302.2L1708.5,1305.4L1713.0,1307.7L1717.5,1310.3L1720.5,1312.7L1726.5,1318.8L1729.5,1321.5L1738.5,1327.6L1747.5,1332.9L1749.0,1333.5L1752.0,1334.4L1761.0,1336.3L1767.0,1338.6L1773.0,1340.0L1779.0,1341.9L1783.5,1343.1L1786.5,1344.2L1794.0,1347.6L1801.5,1350.4L1809.0,1352.4L1815.0,1354.7L1824.0,1357.7L1827.0,1358.9L1837.5,1363.8L1849.5,1368.7L1863.0,1373.8L1869.0,1376.3L1873.5,1377.7L1876.5,1378.8L1884.0,1382.4L1897.5,1389.2L1900.5,1391.7L1911.0,1396.8L1918.5,1399.5L1921.5,1400.8L1929.0,1404.6L1935.0,1406.6L1941.0,1409.1L1945.5,1410.7L1953.0,1414.0L1965.0,1417.8L1972.5,1420.7L1980.0,1422.9L1983.0,1423.5L1990.5,1424.3L2007.0,1427.7L2014.5,1428.6L2025.0,1431.1L2038.5,1434.7L2049.0,1436.8L2055.0,1437.1L2058.0,1437.5L2061.0,1438.2L2067.0,1439.9L2071.5,1440.4L2080.5,1440.8L2107.5,1445.5L2110.5,1445.9L2116.5,1446.2L2125.5,1447.2L2133.0,1448.6L2139.0,1449.5L2145.0,1450.8L2161.5,1451.7L2164.5,1452.2L2172.0,1454.3L2175.0,1454.9L2181.0,1454.7L2182.5,1454.8L2200.5,1457.8L2223.0,1460.3L2229.0,1460.6L2241.0,1460.6L2247.0,1462.0L2250.0,1462.5L2259.0,1463.3L2265.0,1464.0L2277.0,1464.2L2283.0,1464.6L2289.0,1464.1L2292.0,1464.1L2295.0,1464.4L2301.0,1465.6L2302.5,1465.7L2313.0,1465.2" stroke="#a000c8"/>
<path d="M237.0,1407.0L249.0,1412.2L264.0,1419.6L267.0,1421.3L273.0,1425.4L291.0,1439.7L303.0,1448.9L307.5,1452.1L312.0,1454.9L316.5,1457.4L321.0,1459.5L327.0,1462.0L333.0,1464.1L345.0,1469.0L354.0,1471.2L357.0,1471.7L360.0,1471.7L369.0,1471.4L385.5,1469.1L391.5,1467.9L396.0,1466.0L400.5,1463.6L402.0,1462.3L403.5,1460.5L405.0,1458.0L406.5,1454.7L408.0,1450.3L409.5,1444.9L412.5,1432.6L415.5,1418.6L418.5,1403.0L420.0,1393.7L429.0,1328.4L430.5,1314.8L433.5,1281.9L439.5,1222.7L442.5,1201.1L444.0,1191.8L445.5,1184.0L447.0,1177.1L450.0,1165.5L453.0,1155.9L454.5,1152.0L456.0,1149.2L457.5,1147.0L459.0,1145.5L460.5,1144.5L462.0,1143.9L465.0,1143.2L466.5,1143.3L469.5,1144.0L472.5,1145.3L474.0,1146.3L477.0,1148.9L478.5,1150.5L480.0,1152.7L483.0,1158.5L486.0,1166.3L489.0,1175.6L493.5,1191.0L495.0,1197.0L498.0,1212.5L501.0,1228.4L502.5,1237.8L505.5,1257.8L507.0,1270.0L508.5,1283.8L510.0,1300.7L511.5,1308.2L513.0,1319.9L514.5,1329.3L517.5,1345.5L522.0,1365.6L525.0,1377.7L526.5,1382.8L528.0,1386.9L531.0,1392.8L534.0,1397.3L535.5,1399.0L538.5,1401.5L541.5,1403.5L555.0,1408.6L561.0,1410.4L573.0,1412.1L579.0,1412.7L600.0,1415.2L615.0,1417.8L627.0,1421.1L633.0,1423.1L639.0,1425.7L645.0,1427.5L664.5,1435.3L669.0,1436.6L688.5,1443.0L693.0,1444.3L699.0,1445.6L702.0,1446.5L717.0,1451.7L735.0,1458.6L741.0,1460.0L747.0,1462.3L763.5,1466.6L771.0,1468.0L783.0,1470.6L789.0,1471.3L795.0,1472.4L814.5,1475.5L819.0,1476.4L825.0,1477.2L831.0,1478.4L843.0,1480.1L849.0,1480.7L855.0,1481.6L874.5,1482.5L882.0,1482.0L903.0,1480.2L919.5,1476.8L931.5,1475.0L945.0,1472.2L952.5,1471.1L967.5,1469.2L978.0,1468.6L990.0,1466.9L999.0,1466.4L1003.5,1465.8L1027.5,1457.7L1042.5,1453.4L1051.5,1450.1L1054.5,1449.2L1062.0,1447.7L1069.5,1446.8L1087.5,1445.4L1099.5,1444.9L1104.0,1444.4L1108.5,1443.6L1125.0,1439.3L1131.0,1437.5L1137.0,1436.1L1141.5,1434.7L1161.0,1427.1L1168.5,1423.4L1177.5,1420.1L1189.5,1417.7L1194.0,1416.9L1198.5,1416.5L1209.0,1416.0L1212.0,1416.3L1216.5,1417.5L1225.5,1420.8L1228.5,1422.1L1233.0,1424.4L1237.5,1427.1L1245.0,1432.1L1251.0,1435.7L1263.0,1443.7L1273.5,1449.5L1281.0,1453.0L1299.0,1459.6L1305.0,1461.5L1312.5,1462.3L1317.0,1463.1L1324.5,1465.0L1330.5,1466.2L1351.5,1471.7L1359.0,1473.3L1368.0,1474.7L1378.5,1476.6L1393.5,1478.1L1402.5,1479.5L1407.0,1480.8L1416.0,1484.1L1419.0,1485.0L1428.0,1486.5L1435.5,1487.9L1438.5,1488.7L1443.0,1490.3L1449.0,1491.8L1456.5,1494.3L1462.5,1495.6L1471.5,1497.3L1479.0,1499.4L1486.5,1500.3L1497.0,1501.3L1524.0,1504.5L1539.0,1505.4L1561.5,1509.3L1570.5,1510.1L1581.0,1510.5L1588.5,1511.2L1605.0,1513.6L1611.0,1514.1L1617.0,1515.1L1629.0,1516.4L1635.0,1516.4L1639.5,1516.8L1647.0,1516.9L1651.5,1517.4L1654.5,1517.4L1665.0,1516.3L1674.0,1514.1L1681.5,1512.8L1692.0,1511.9L1698.0,1511.8L1704.0,1512.9L1710.0,1514.8L1716.0,1517.2L1725.0,1521.3L1729.5,1523.0L1732.5,1523.6L1741.5,1524.8L1771.5,1525.7L1785.0,1526.4L1791.0,1526.0L1795.5,1525.9L1810.5,1526.8L1819.5,1526.4L1827.0,1526.3L1833.0,1527.1L1842.0,1527.7L1860.0,1529.8L1875.0,1531.0L1885.5,1532.2L1890.0,1532.9L1905.0,1535.7L1912.5,1536.2L1923.0,1536.4L1951.5,1538.4L1956.0,1538.5L2001.0,1535.9L2019.0,1534.2L2029.5,1533.7L2043.0,1531.9L2049.0,1530.7L2055.0,1530.1L2067.0,1527.6L2073.0,1527.0L2079.0,1525.9L2085.0,1525.5L2115.0,1522.6L2119.5,1522.6L2124.0,1522.3L2128.5,1521.5L2139.0,1519.2L2157.0,1517.2L2172.0,1514.7L2187.0,1513.4L2193.0,1513.2L2215.5,1510.7L2229.0,1510.3L2235.0,1509.4L2263.5,1506.9L2271.0,1505.9L2277.0,1505.3L2283.0,1504.3L2289.0,1504.0L2304.0,1502.3L2313.0,1501.8" stroke="#e6aa2d" stroke-width="8.0" shape-rendering="auto"/>
<path d="M237.0,1407.0L249.0,1412.2L264.0,1419.6L267.0,1421.3L273.0,1425.4L291.0,1439.7L303.0,1448.9L307.5,1452.1L312.0,1454.9L316.5,1457.4L321.0,1459.5L327.0,1462.0L333.0,1464.1L345.0,1469.0L354.0,1471.2L357.0,1471.7L360.0,1471.7L369.0,1471.4L385.5,1469.1L391.5,1467.9L396.0,1466.0L400.5,1463.6L402.0,1462.3L403.5,1460.5L405.0,1458.0L406.5,1454.7L408.0,1450.3L409.5,1444.9L412.5,1432.6L415.5,1418.6L418.5,1403.0L420.0,1393.7L429.0,1328.4L430.5,1314.8L433.5,1281.9L439.5,1222.7L442.5,1201.1L444.0,1191.8L445.5,1184.0L447.0,1177.1L450.0,1165.5L453.0,1155.9L454.5,1152.0L456.0,1149.2L457.5,1147.0L459.0,1145.5L460.5,1144.5L462.0,1143.9L465.0,1143.2L466.5,1143.3L469.5,1144.0L472.5,1145.3L474.0,1146.3L477.0,1148.9L478.5,1150.5L480.0,1152.7L483.0,1158.5L486.0,1166.3L489.0,1175.6L493.5,1191.0L495.0,1197.0L498.0,1212.5L501.0,1228.4L502.5,1237.8L505.5,1257.8L507.0,1270.0L508.5,1283.8L510.0,1300.7L511.5,1308.2L513.0,1319.9L514.5,1329.3L517.5,1345.5L522.0,1365.6L525.0,1377.7L526.5,1382.8L528.0,1386.9L531.0,1392.8L534.0,1397.3L535.5,1399.0L538.5,1401.5L541.5,1403.5L555.0,1408.6L561.0,1410.4L573.0,1412.1L579.0,1412.7L600.0,1415.2L615.0,1417.8L627.0,1421.1L633.0,1423.1L639.0,1425.7L645.0,1427.5L664.5,1435.3L669.0,1436.6L688.5,1443.0L693.0,1444.3L699.0,1445.6L702.0,1446.5L717.0,1451.7L735.0,1458.6L741.0,1460.0L747.0,1462.3L763.5,1466.6L771.0,1468.0L783.0,1470.6L789.0,1471.3L795.0,1472.4L814.5,1475.5L819.0,1476.4L825.0,1477.2L831.0,1478.4L843.0,1480.1L849.0,1480.7L855.0,1481.6L874.5,1482.5L882.0,1482.0L903.0,1480.2L919.5,1476.8L931.5,1475.0L945.0,1472.2L952.5,1471.1L967.5,1469.2L978.0,1468.6L990.0,1466.9L999.0,1466.4L1003.5,1465.8L1027.5,1457.7L1042.5,1453.4L1051.5,1450.1L1054.5,1449.2L1062.0,1447.7L1069.5,1446.8L1087.5,1445.4L1099.5,1444.9L1104.0,1444.4L1108.5,1443.6L1125.0,1439.3L1131.0,1437.5L1137.0,1436.1L1141.5,1434.7L1161.0,1427.1L1168.5,1423.4L1177.5,1420.1L1189.5,1417.7L1194.0,1416.9L1198.5,1416.5L1209.0,1416.0L1212.0,1416.3L1216.5,1417.5L1225.5,1420.8L1228.5,1422.1L1233.0,1424.4L1237.5,1427.1L1245.0,1432.1L1251.0,1435.7L1263.0,1443.7L1273.5,1449.5L1281.0,1453.0L1299.0,1459.6L1305.0,1461.5L1312.5,1462.3L1317.0,1463.1L1324.5,1465.0L1330.5,1466.2L1351.5,1471.7L1359.0,1473.3L1368.0,1474.7L1378.5,1476.6L1393.5,1478.1L1402.5,1479.5L1407.0,1480.8L1416.0,1484.1L1419.0,1485.0L1428.0,1486.5L1435.5,1487.9L1438.5,1488.7L1443.0,1490.3L1449.0,1491.8L1456.5,1494.3L1462.5,1495.6L1471.5,1497.3L1479.0,1499.4L1486.5,1500.3L1497.0,1501.3L1524.0,1504.5L1539.0,1505.4L1561.5,1509.3L1570.5,1510.1L1581.0,1510.5L1588.5,1511.2L1605.0,1513.6L1611.0,1514.1L1617.0,1515.1L1629.0,1516.4L1635.0,1516.4L1639.5,1516.8L1647.0,1516.9L1651.5,1517.4L1654.5,1517.4L1665.0,1516.3L1674.0,1514.1L1681.5,1512.8L1692.0,1511.9L1698.0,1511.8L1704.0,1512.9L1710.0,1514.8L1716.0,1517.2L1725.0,1521.3L1729.5,1523.0L1732.5,1523.6L1741.5,1524.8L1771.5,1525.7L1785.0,1526.4L1791.0,1526.0L1795.5,1525.9L1810.5,1526.8L1819.5,1526.4L1827.0,1526.3L1833.0,1527.1L1842.0,1527.7L1860.0,1529.8L1875.0,1531.0L1885.5,1532.2L1890.0,1532.9L1905.0,1535.7L1912.5,1536.2L1923.0,1536.4L1951.5,1538.4L1956.0,1538.5L2001.0,1535.9L2019.0,1534.2L2029.5,1533.7L2043.0,1531.9L2049.0,1530.7L2055.0,1530.1L2067.0,1527.6L2073.0,1527.0L2079.0,1525.9L2085.0,1525.5L2115.0,1522.6L2119.5,1522.6L2124.0,1522.3L2128.5,1521.5L2139.0,1519.2L2157.0,1517.2L2172.0,1514.7L2187.0,1513.4L2193.0,1513.2L2215.5,1510.7L2229.0,1510.3L2235.0,1509.4L2263.5,1506.9L2271.0,1505.9L2277.0,1505.3L2283.0,1504.3L2289.0,1504.0L2304.0,1502.3L2313.0,1501.8" stroke="#e6aa2d"/>
<path d="M237.0,1601.4L243.0,1603.7L249.0,1606.5L255.0,1608.3L279.0,1616.9L286.5,1621.0L289.5,1622.3L295.5,1624.6L301.5,1626.2L304.5,1627.3L315.0,1632.1L325.5,1636.1L328.5,1637.0L333.0,1637.8L340.5,1639.6L346.5,1641.4L352.5,1642.9L357.0,1643.6L364.5,1644.6L373.5,1645.1L379.5,1645.1L400.5,1642.2L405.0,1640.5L408.0,1638.7L417.0,1631.5L420.0,1628.2L421.5,1626.3L423.0,1623.8L424.5,1620.7L429.0,1609.5L432.0,1600.3L435.0,1589.6L438.0,1579.9L441.0,1572.2L444.0,1566.6L447.0,1562.1L457.5,1547.4L460.5,1543.9L463.5,1541.4L466.5,1539.6L475.5,1534.9L481.5,1532.2L484.5,1531.2L493.5,1529.8L496.5,1530.1L498.0,1530.7L508.5,1536.7L513.0,1538.7L516.0,1539.7L517.5,1539.9L520.5,1539.7L525.0,1538.7L529.5,1537.5L532.5,1536.2L535.5,1534.7L540.0,1532.1L547.5,1526.9L561.0,1516.3L568.5,1511.0L580.5,1503.0L586.5,1499.3L597.0,1494.1L609.0,1489.1L615.0,1487.3L633.0,1480.6L637.5,1479.4L640.5,1478.9L649.5,1478.4L658.5,1479.1L669.0,1479.3L675.0,1479.7L687.0,1479.9L699.0,1480.7L718.5,1483.2L736.5,1486.2L753.0,1489.7L765.0,1491.6L777.0,1492.9L783.0,1493.2L789.0,1494.0L799.5,1495.0L808.5,1495.0L820.5,1496.2L835.5,1496.0L847.5,1496.2L855.0,1495.9L865.5,1494.9L877.5,1493.5L885.0,1492.9L903.0,1490.4L913.5,1488.1L919.5,1486.5L933.0,1482.2L939.0,1479.9L945.0,1478.2L955.5,1475.0L966.0,1472.8L978.0,1469.7L987.0,1467.9L990.0,1467.1L1000.5,1463.5L1006.5,1461.2L1018.5,1455.6L1041.0,1444.3L1053.0,1439.3L1069.5,1432.9L1084.5,1428.5L1095.0,1426.4L1101.0,1425.7L1107.0,1423.8L1120.5,1418.5L1137.0,1410.9L1143.0,1407.1L1149.0,1403.7L1155.0,1399.9L1161.0,1396.4L1171.5,1389.2L1174.5,1387.5L1185.0,1383.1L1194.0,1378.9L1200.0,1377.0L1203.0,1376.6L1213.5,1377.1L1221.0,1377.2L1224.0,1377.7L1227.0,1378.6L1230.0,1379.9L1239.0,1384.2L1254.0,1392.7L1269.0,1400.2L1275.0,1402.8L1281.0,1404.4L1299.0,1407.1L1321.5,1409.0L1329.0,1410.1L1333.5,1410.6L1341.0,1411.0L1351.5,1413.2L1359.0,1414.2L1365.0,1415.3L1371.0,1416.2L1377.0,1416.7L1383.0,1417.6L1389.0,1417.8L1395.0,1418.3L1405.5,1419.8L1416.0,1420.7L1423.5,1421.7L1426.5,1422.5L1431.0,1424.1L1435.5,1425.4L1443.0,1427.1L1452.0,1429.5L1473.0,1433.8L1479.0,1434.7L1491.0,1436.9L1503.0,1438.6L1509.0,1439.8L1527.0,1442.5L1545.0,1445.5L1558.5,1447.4L1573.5,1449.1L1581.0,1449.7L1584.0,1450.1L1591.5,1451.6L1599.0,1453.6L1605.0,1455.0L1633.5,1460.4L1647.0,1462.4L1656.0,1463.4L1666.5,1464.1L1681.5,1465.6L1692.0,1465.6L1696.5,1466.1L1702.5,1467.6L1717.5,1472.9L1726.5,1475.4L1743.0,1478.8L1759.5,1481.3L1773.0,1484.8L1783.5,1486.3L1794.0,1486.8L1798.5,1487.2L1809.0,1489.8L1821.0,1491.4L1834.5,1494.0L1845.0,1495.2L1851.0,1496.5L1857.0,1497.5L1863.0,1498.9L1873.5,1500.8L1882.5,1503.1L1899.0,1508.3L1905.0,1510.0L1926.0,1517.4L1930.5,1518.6L1941.0,1520.8L1947.0,1521.5L1959.0,1523.2L1965.0,1523.6L1975.5,1525.3L1989.0,1527.3L1999.5,1528.1L2017.5,1528.0L2025.0,1528.6L2031.0,1528.5L2049.0,1528.9L2055.0,1529.7L2073.0,1530.5L2079.0,1530.5L2085.0,1531.0L2091.0,1531.0L2097.0,1530.7L2103.0,1530.9L2110.5,1530.9L2115.0,1531.1L2121.0,1531.6L2131.5,1531.7L2142.0,1532.3L2155.5,1532.4L2163.0,1532.2L2175.0,1532.8L2193.0,1533.3L2202.0,1534.1L2211.0,1534.7L2221.5,1535.6L2241.0,1535.7L2260.5,1537.1L2265.0,1537.2L2271.0,1537.7L2277.0,1537.5L2283.0,1538.0L2301.0,1538.7L2313.0,1539.7" stroke="#00ff00" stroke-width="8.0" shape-rendering="auto"/>
<path d="M237.0,1601.4L243.0,1603.7L249.0,1606.5L255.0,1608.3L279.0,1616.9L286.5,1621.0L289.5,1622.3L295.5,1624.6L301.5,1626.2L304.5,1627.3L315.0,1632.1L325.5,1636.1L328.5,1637.0L333.0,1637.8L340.5,1639.6L346.5,1641.4L352.5,1642.9L357.0,1643.6L364.5,1644.6L373.5,1645.1L379.5,1645.1L400.5,1642.2L405.0,1640.5L408.0,1638.7L417.0,1631.5L420.0,1628.2L421.5,1626.3L423.0,1623.8L424.5,1620.7L429.0,1609.5L432.0,1600.3L435.0,1589.6L438.0,1579.9L441.0,1572.2L444.0,1566.6L447.0,1562.1L457.5,1547.4L460.5,1543.9L463.5,1541.4L466.5,1539.6L475.5,1534.9L481.5,1532.2L484.5,1531.2L493.5,1529.8L496.5,1530.1L498.0,1530.7L508.5,1536.7L513.0,1538.7L516.0,1539.7L517.5,1539.9L520.5,1539.7L525.0,1538.7L529.5,1537.5L532.5,1536.2L535.5,1534.7L540.0,1532.1L547.5,1526.9L561.0,1516.3L568.5,1511.0L580.5,1503.0L586.5,1499.3L597.0,1494.1L609.0,1489.1L615.0,1487.3L633.0,1480.6L637.5,1479.4L640.5,1478.9L649.5,1478.4L658.5,1479.1L669.0,1479.3L675.0,1479.7L687.0,1479.9L699.0,1480.7L718.5,1483.2L736.5,1486.2L753.0,1489.7L765.0,1491.6L777.0,1492.9L783.0,1493.2L789.0,1494.0L799.5,1495.0L808.5,1495.0L820.5,1496.2L835.5,1496.0L847.5,1496.2L855.0,1495.9L865.5,1494.9L877.5,1493.5L885.0,1492.9L903.0,1490.4L913.5,1488.1L919.5,1486.5L933.0,1482.2L939.0,1479.9L945.0,1478.2L955.5,1475.0L966.0,1472.8L978.0,1469.7L987.0,1467.9L990.0,1467.1L1000.5,1463.5L1006.5,1461.2L1018.5,1455.6L1041.0,1444.3L1053.0,1439.3L1069.5,1432.9L1084.5,1428.5L1095.0,1426.4L1101.0,1425.7L1107.0,1423.8L1120.5,1418.5L1137.0,1410.9L1143.0,1407.1L1149.0,1403.7L1155.0,1399.9L1161.0,1396.4L1171.5,1389.2L1174.5,1387.5L1185.0,1383.1L1194.0,1378.9L1200.0,1377.0L1203.0,1376.6L1213.5,1377.1L1221.0,1377.2L1224.0,1377.7L1227.0,1378.6L1230.0,1379.9L1239.0,1384.2L1254.0,1392.7L1269.0,1400.2L1275.0,1402.8L1281.0,1404.4L1299.0,1407.1L1321.5,1409.0L1329.0,1410.1L1333.5,1410.6L1341.0,1411.0L1351.5,1413.2L1359.0,1414.2L1365.0,1415.3L1371.0,1416.2L1377.0,1416.7L1383.0,1417.6L1389.0,1417.8L1395.0,1418.3L1405.5,1419.8L1416.0,1420.7L1423.5,1421.7L1426.5,1422.5L1431.0,1424.1L1435.5,1425.4L1443.0,1427.1L1452.0,1429.5L1473.0,1433.8L1479.0,1434.7L1491.0,1436.9L1503.0,1438.6L1509.0,1439.8L1527.0,1442.5L1545.0,1445.5L1558.5,1447.4L1573.5,1449.1L1581.0,1449.7L1584.0,1450.1L1591.5,1451.6L1599.0,1453.6L1605.0,1455.0L1633.5,1460.4L1647.0,1462.4L1656.0,1463.4L1666.5,1464.1L1681.5,1465.6L1692.0,1465.6L1696.5,1466.1L1702.5,1467.6L1717.5,1472.9L1726.5,1475.4L1743.0,1478.8L1759.5,1481.3L1773.0,1484.8L1783.5,1486.3L1794.0,1486.8L1798.5,1487.2L1809.0,1489.8L1821.0,1491.4L1834.5,1494.0L1845.0,1495.2L1851.0,1496.5L1857.0,1497.5L1863.0,1498.9L1873.5,1500.8L1882.5,1503.1L1899.0,1508.3L1905.0,1510.0L1926.0,1517.4L1930.5,1518.6L1941.0,1520.8L1947.0,1521.5L1959.0,1523.2L1965.0,1523.6L1975.5,1525.3L1989.0,1527.3L1999.5,1528.1L2017.5,1528.0L2025.0,1528.6L2031.0,1528.5L2049.0,1528.9L2055.0,1529.7L2073.0,1530.5L2079.0,1530.5L2085.0,1531.0L2091.0,1531.0L2097.0,1530.7L2103.0,1530.9L2110.5,1530.9L2115.0,1531.1L2121.0,1531.6L2131.5,1531.7L2142.0,1532.3L2155.5,1532.4L2163.0,1532.2L2175.0,1532.8L2193.0,1533.3L2202.0,1534.1L2211.0,1534.7L2221.5,1535.6L2241.0,1535.7L2260.5,1537.1L2265.0,1537.2L2271.0,1537.7L2277.0,1537.5L2283.0,1538.0L2301.0,1538.7L2313.0,1539.7" stroke="#00ff00"/>
</g>
<defs><filter id="t" x="-5%" y="-5%" width="110%" height="110%" color-interpolation-filters="sRGB"><feComponentTransfer><feFuncA type="discrete" tableValues="0 1"/></feComponentTransfer></filter></defs>
<g filter="url(#t)">
<g font-size="85.5" text-anchor="middle">
<text transform="translate(251.5,1819.0) scale(1,1.04)">350</text>
<text transform="translate(661.1,1819.0) scale(1,1.04)">400</text>
<text transform="translate(1070.7,1819.0) scale(1,1.04)">450</text>
<text transform="translate(1480.3,1819.0) scale(1,1.04)">500</text>
<text transform="translate(1889.9,1819.0) scale(1,1.04)">550</text>
<text transform="translate(2299.5,1819.0) scale(1,1.04)">600</text>
</g>
<text class="b" font-size="109.4" x="836.2" y="1985.1">Wavelength (nm)</text>
<text class="b" font-size="109.3" transform="translate(112.0,1263.2) rotate(-90)">PL Intensity (a.u)</text>
<g>
<line x1="272.5" y1="130.7" x2="450.5" y2="130.7" stroke="#1f3bff" stroke-width="10" stroke-linecap="round"/>
<text font-size="80.0" transform="translate(472.8,157.9) scale(1,1.02)">Commercial TiO<tspan font-size="54.3" dx="0" dy="21.76">2</tspan></text>
<line x1="272.5" y1="246.8" x2="450.5" y2="246.8" stroke="#ff0000" stroke-width="10" stroke-linecap="round"/>
<text font-size="80.0" transform="translate(472.8,273.7) scale(1,1.04)">ZnO</text>
<line x1="272.5" y1="344.8" x2="450.5" y2="344.8" stroke="#a000c8" stroke-width="10" stroke-linecap="round"/>
<text font-size="80.0" transform="translate(472.8,372.0) scale(1,1.04)">B–ZnO</text>
<line x1="272.5" y1="442.8" x2="450.5" y2="442.8" stroke="#e6aa2d" stroke-width="10" stroke-linecap="round"/>
<text font-size="80.0" transform="translate(472.8,471.0) scale(1,1.04)">ZnO/TiO<tspan font-size="54.3" dx="0" dy="21.35">2</tspan></text>
<line x1="272.5" y1="559.4" x2="450.5" y2="559.4" stroke="#00ff00" stroke-width="10" stroke-linecap="round"/>
<text font-size="80.0" transform="translate(472.8,586.7) scale(1,1.04)">B–ZnO/TiO<tspan font-size="54.3" dx="0" dy="21.35">2</tspan></text>
</g>
</g>
</svg></body></html>
